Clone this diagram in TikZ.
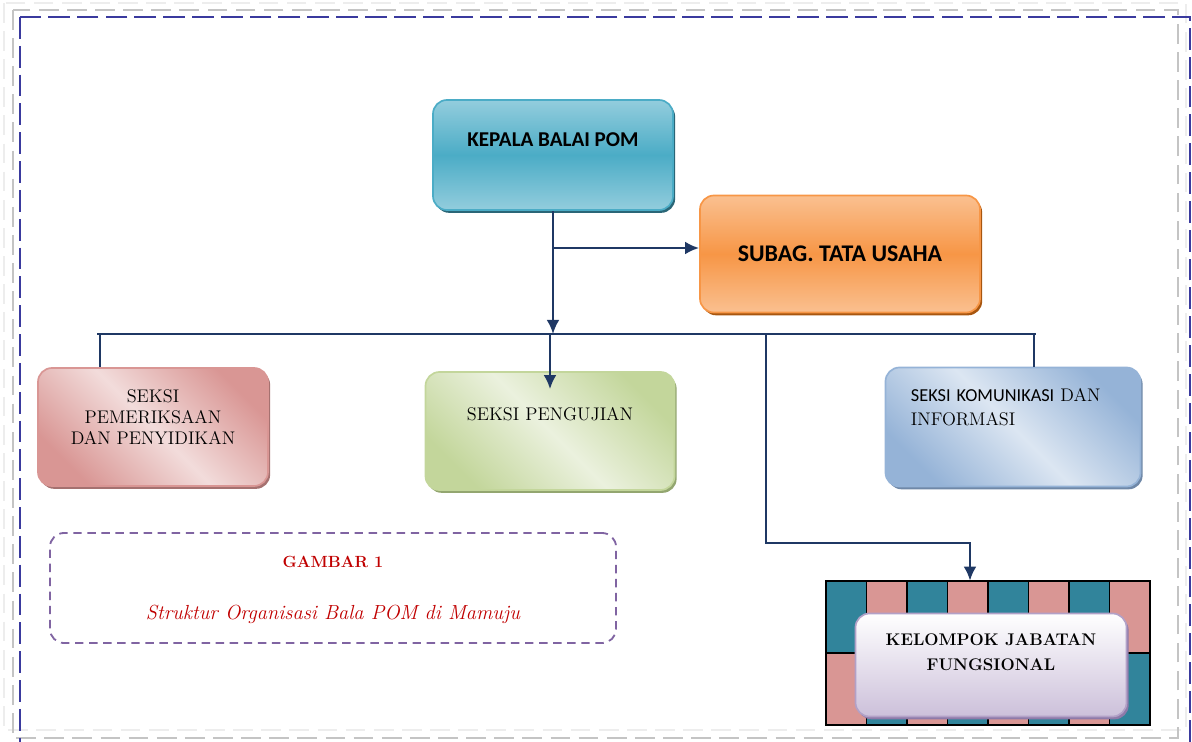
\documentclass[tikz,border=0pt]{standalone}
\usepackage{fontspec}
\usepackage{tikz}
\usetikzlibrary{arrows.meta}
\usetikzlibrary{shadows}
\newfontfamily\calibri{Carlito}

\definecolor{navy}{HTML}{1F3864}
\definecolor{framegray}{HTML}{C4C4C4}
\definecolor{framefaint}{HTML}{EDEDED}
\definecolor{frameblue}{HTML}{3A3A9E}
\definecolor{kepalalight}{HTML}{93CDDD}
\definecolor{kepalamid}{HTML}{4BACC6}
\definecolor{kepalashadow}{HTML}{2A6677}
\definecolor{tulight}{HTML}{FAC090}
\definecolor{tumid}{HTML}{F79646}
\definecolor{tushadow}{HTML}{A8560F}
\definecolor{periksadark}{HTML}{D99694}
\definecolor{periksalight}{HTML}{F2DCDB}
\definecolor{periksashadow}{HTML}{A57170}
\definecolor{ujidark}{HTML}{C3D69B}
\definecolor{ujilight}{HTML}{EBF1DE}
\definecolor{ujishadow}{HTML}{93A670}
\definecolor{infodark}{HTML}{95B3D7}
\definecolor{infolight}{HTML}{DCE6F2}
\definecolor{infoshadow}{HTML}{6F88A8}
\definecolor{jflight}{HTML}{FFFFFF}
\definecolor{jfdark}{HTML}{CCC0DA}
\definecolor{jfline}{HTML}{B2A1C7}
\definecolor{jfshadow}{HTML}{8E7AA9}
\definecolor{tealcell}{HTML}{31849B}
\definecolor{pinkcell}{HTML}{D99694}
\definecolor{captionline}{HTML}{8064A2}
\definecolor{captionred}{HTML}{C00000}

\begin{document}
\begin{tikzpicture}[x=0.025cm,y=-0.025cm]
\tikzset{>={Latex[width=3.2mm,length=3.5mm]}}
\tikzstyle{box} =[rectangle,rounded corners=10pt,line width=1.2pt,inner sep=0pt]
\tikzstyle{conn} =[draw=navy,line width=1.7pt]
\tikzstyle{serif13} =[font=\fontsize{13}{15}\selectfont]
\tikzstyle{cell} =[draw=black,line width=1.1pt]

\useasboundingbox (0,0) rectangle (1192,742);

% page frames
\draw[framefaint,line width=1.5pt,dash pattern=on 14pt off 6pt] (4,3) rectangle (1186,730);
\draw[framegray,line width=1.5pt,dash pattern=on 14pt off 6pt] (13,10) rectangle (1178,738);
\draw[frameblue,line width=2pt,dash pattern=on 15.5pt off 5pt] (20,17) rectangle (1190,760);

% boxes
\node[box,draw=kepalamid,top color=kepalalight,bottom color=kepalalight,middle color=kepalamid,
  drop shadow={shadow xshift=1.5pt,shadow yshift=-2pt,fill=kepalashadow,opacity=1},
  minimum width=6cm,minimum height=2.75cm,text height=0.35cm,text depth=0.78cm,
  font=\calibri\bfseries\fontsize{15}{17}\selectfont] (kepala) at (553,155) {KEPALA BALAI POM};

\node[box,draw=tumid,top color=tulight,bottom color=tulight,middle color=tumid,
  drop shadow={shadow xshift=1.5pt,shadow yshift=-2pt,fill=tushadow,opacity=1},
  minimum width=7cm,minimum height=2.925cm,
  font=\calibri\bfseries\fontsize{17}{19}\selectfont] (tu) at (840,254) {SUBAG. TATA USAHA};

\node[box,draw=periksadark,left color=periksadark,right color=periksadark,middle color=periksalight,shading angle=-45,
  drop shadow={shadow xshift=1.5pt,shadow yshift=-2pt,fill=periksashadow,opacity=1},
  minimum width=5.75cm,minimum height=2.95cm,align=center,text height=1.2cm,text depth=0.34cm,
  serif13] (periksa) at (153,427) {SEKSI\\PEMERIKSAAN\\DAN PENYIDIKAN};

\node[box,draw=ujidark,left color=ujidark,right color=ujidark,middle color=ujilight,shading angle=-45,
  drop shadow={shadow xshift=1.5pt,shadow yshift=-2pt,fill=ujishadow,opacity=1},
  minimum width=6.225cm,minimum height=2.95cm,text height=0.35cm,text depth=0.89cm,
  serif13] (uji) at (550,431) {SEKSI PENGUJIAN};

\node[box,draw=infodark,left color=infodark,right color=infodark,middle color=infolight,shading angle=-45,
  drop shadow={shadow xshift=1.5pt,shadow yshift=-2pt,fill=infoshadow,opacity=1},
  minimum width=6.375cm,minimum height=2.975cm,text width=5.1cm,align=left,text height=0.35cm,text depth=1.62cm,
  font=\fontsize{13}{17}\selectfont] (kominfo) at (1013,427) {{\calibri SEKSI KOMUNIKASI} DAN\\INFORMASI};

% kelompok jabatan fungsional
\node[inner sep=0pt,minimum width=8.1cm,minimum height=3.6cm] (jfgrid) at (988,653) {};
\foreach \i in {0,...,7}{
  \ifodd\i \def\ca{pinkcell}\def\cb{tealcell}\else \def\ca{tealcell}\def\cb{pinkcell}\fi
  \draw[cell,fill=\ca] (826+40.5*\i,581) rectangle ++(40.5,72);
  \draw[cell,fill=\cb] (826+40.5*\i,653) rectangle ++(40.5,72);
}
\node[box,draw=jfline,top color=jflight,bottom color=jfdark,
  drop shadow={shadow xshift=1.5pt,shadow yshift=-2pt,fill=jfshadow,opacity=1},
  minimum width=6.775cm,minimum height=2.575cm,align=center,text height=0.6cm,text depth=0.335cm,
  font=\bfseries\fontsize{12}{17.7}\selectfont] (jafung) at (991,665) {KELOMPOK JABATAN\\FUNGSIONAL};

% caption
\node[box,draw=captionline,dashed,dash pattern=on 6pt off 4pt,line width=1.3pt,
  minimum width=14.15cm,minimum height=2.75cm,align=center,text height=1.9cm,text depth=0.35cm,
  text=captionred,font=\fontsize{11.5}{13}\selectfont] (caption) at (333,588)
  {\bfseries GAMBAR 1\\[0.84cm]{\itshape\fontsize{14.5}{16}\selectfont Struktur Organisasi Bala POM di Mamuju}};

% connectors
\coordinate (busL) at (97,334);
\coordinate (busR) at (1036,334);
\coordinate (dropL) at (100,334);
\coordinate (dropR) at (1034,334);
\coordinate (dropJ) at (766,334);
\coordinate (bend) at (970,543);

\draw[->,conn] (kepala.south) -- (kepala.south |- busL);
\draw[->,conn] ([yshift=0.15cm]tu.west -| kepala.south) -- ([yshift=0.15cm]tu.west);
\draw[conn] (busL) -- (busR);
\draw[conn] (dropL) -- (dropL |- periksa.north);
\draw[conn] (dropR) -- (dropR |- kominfo.north);
\draw[->,conn] (uji.north |- busL) -- ([yshift=-0.45cm]uji.north);
\draw[->,conn] (dropJ) |- (bend) -- (bend |- jfgrid.north);
\end{tikzpicture}
\end{document}
